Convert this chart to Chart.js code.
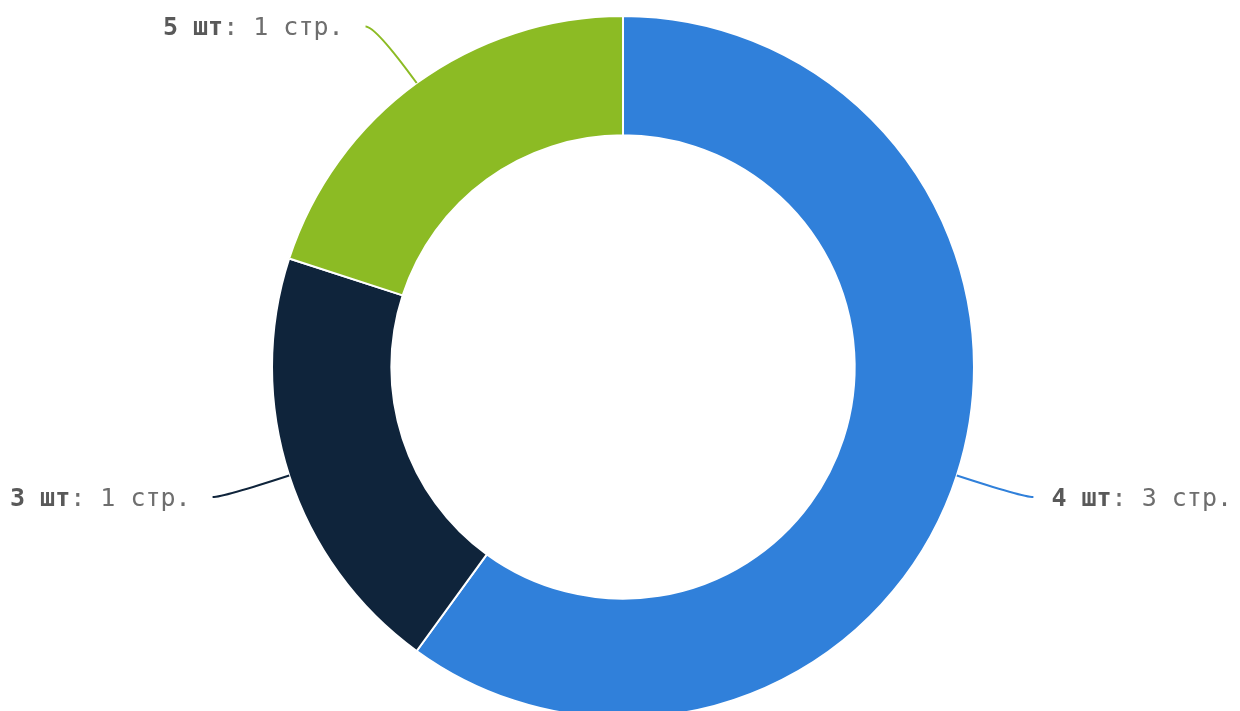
<!DOCTYPE html>
<html>
<head>
<meta charset="utf-8">
<script src="https://cdn.jsdelivr.net/npm/chart.js@4"></script>
<style>
    html, body { margin: 0; padding: 0; background: #fff; overflow: hidden; }
    #wrap { position: relative; width: 1240px; height: 736px; }
</style>
</head>
<body>
<div id="wrap"><canvas id="pieChart"></canvas></div>
<script>
const categories = ['4 шт', '3 шт', '5 шт'];
const pages = [3, 1, 1];
const unit = 'стр.';
const colors = ['#3080DA', '#0F243B', '#8CBB24'];

// labels with curved leader lines, placed from each arc's geometry
const sideLabels = {
    id: 'sideLabels',
    afterDraw(chart) {
        const ctx = chart.ctx;
        const meta = chart.getDatasetMeta(0);
        meta.data.forEach((arc, i) => {
            const { x, y, startAngle, endAngle, outerRadius } = arc.getProps(['x', 'y', 'startAngle', 'endAngle', 'outerRadius'], true);
            const mid = (startAngle + endAngle) / 2;
            const cos = Math.cos(mid), sin = Math.sin(mid);
            const x0 = x + cos * outerRadius, y0 = y + sin * outerRadius;
            const x1 = x + cos * (outerRadius + 70), y1 = y + sin * (outerRadius + 70);
            const right = cos >= 0;
            const x2 = x1 + (right ? 10 : -10);

            ctx.save();
            ctx.strokeStyle = colors[i];
            ctx.lineWidth = 2;
            ctx.beginPath();
            ctx.moveTo(x0, y0);
            ctx.quadraticCurveTo(x1, y1, x2, y1);
            ctx.stroke();

            const boldTxt = categories[i];
            const restTxt = ': ' + pages[i] + ' ' + unit;
            ctx.textBaseline = 'middle';
            ctx.textAlign = 'left';
            ctx.font = 'bold 25px "DejaVu Sans Mono"';
            const wb = ctx.measureText(boldTxt).width;
            ctx.font = '25px "DejaVu Sans Mono"';
            const wr = ctx.measureText(restTxt).width;
            let tx = right ? x2 + 18 : x2 - 22 - wb - wr;
            const ty = y1 + 2;
            ctx.font = 'bold 25px "DejaVu Sans Mono"';
            ctx.fillStyle = '#595959';
            ctx.fillText(boldTxt, tx, ty);
            ctx.font = '25px "DejaVu Sans Mono"';
            ctx.fillStyle = '#6e6e6e';
            ctx.fillText(restTxt, tx + wb, ty);
            ctx.restore();
        });
    }
};

new Chart(document.getElementById('pieChart'), {
    type: 'doughnut',
    data: {
        labels: categories,
        datasets: [{
            data: pages,
            backgroundColor: colors,
            borderColor: '#ffffff',
            borderWidth: 2
        }]
    },
    options: {
        responsive: true,
        maintainAspectRatio: false,
        animation: false,
        cutout: '66%',
        layout: { padding: { top: 15, bottom: 17, left: 6, right: 0 } },
        plugins: {
            legend: { display: false },
            tooltip: { enabled: false }
        }
    },
    plugins: [sideLabels]
});
</script>
</body>
</html>
